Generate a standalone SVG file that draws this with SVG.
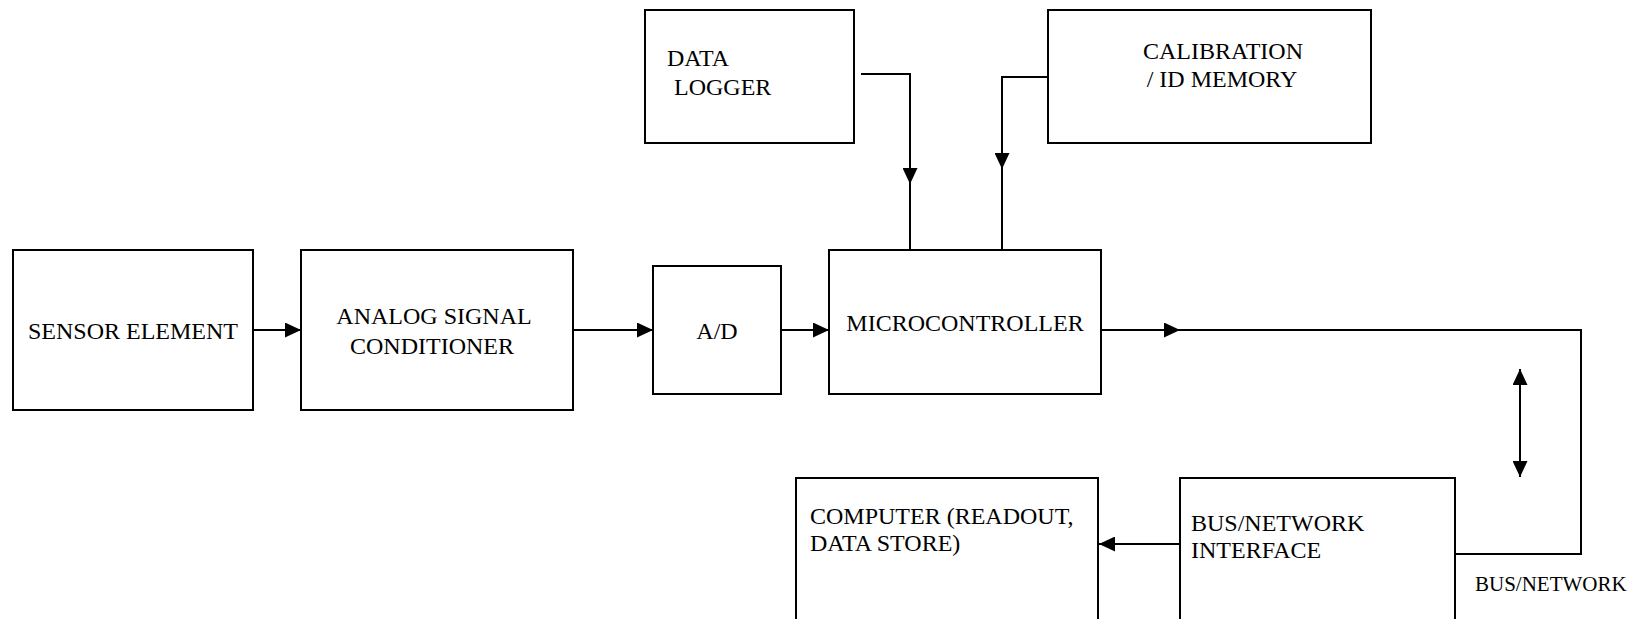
<svg xmlns="http://www.w3.org/2000/svg" width="1632" height="619" viewBox="0 0 1632 619">
  <style>
    .box { fill: #ffffff; stroke: #000000; stroke-width: 2; }
    .wire { fill: none; stroke: #000000; stroke-width: 2; }
    .lbl { font-family: "Liberation Serif", "Times New Roman", serif; font-size: 24px; fill: #000000; }
    .small { font-size: 21px; }
    .mid { text-anchor: middle; }
  </style>
  <defs>
    <marker id="head" markerUnits="userSpaceOnUse" markerWidth="16" markerHeight="15" refX="16" refY="7.5" orient="auto-start-reverse">
      <path d="M0,0 L16,7.5 L0,15 Z" fill="#000000"/>
    </marker>
  </defs>
  <rect width="1632" height="619" fill="#ffffff"/>

  <!-- signal paths between blocks -->
  <g id="connectors">
    <path class="wire" d="M253,330 H301" marker-end="url(#head)"/>
    <path class="wire" d="M573,330 H653" marker-end="url(#head)"/>
    <path class="wire" d="M781,330 H829" marker-end="url(#head)"/>
    <path class="wire" d="M861,74 H910 V184" marker-end="url(#head)"/>
    <path class="wire" d="M910,182 V250"/>
    <path class="wire" d="M1048,77 H1002 V169" marker-end="url(#head)"/>
    <path class="wire" d="M1002,167 V250"/>
    <path class="wire" d="M1101,330 H1180" marker-end="url(#head)"/>
    <path class="wire" d="M1178,330 H1581 V554 H1453"/>
    <path class="wire" d="M1520,369 V477" marker-start="url(#head)" marker-end="url(#head)"/>
    <path class="wire" d="M1180,544 H1099" marker-end="url(#head)"/>
  </g>

  <g id="sensor">
    <rect class="box" x="13" y="250" width="240" height="160"/>
    <text class="lbl mid" x="133" y="339">SENSOR ELEMENT</text>
  </g>

  <g id="conditioner">
    <rect class="box" x="301" y="250" width="272" height="160"/>
    <text class="lbl mid" x="434" y="324">ANALOG SIGNAL</text>
    <text class="lbl mid" x="432" y="354">CONDITIONER</text>
  </g>

  <g id="adc">
    <rect class="box" x="653" y="266" width="128" height="128"/>
    <text class="lbl mid" x="717" y="339">A/D</text>
  </g>

  <g id="microcontroller">
    <rect class="box" x="829" y="250" width="272" height="144"/>
    <text class="lbl mid" x="965" y="331">MICROCONTROLLER</text>
  </g>

  <g id="datalogger">
    <rect class="box" x="645" y="10" width="209" height="133"/>
    <text class="lbl" x="667" y="66">DATA</text>
    <text class="lbl" x="674" y="95">LOGGER</text>
  </g>

  <g id="calibration">
    <rect class="box" x="1048" y="10" width="323" height="133"/>
    <text class="lbl mid" x="1223" y="59">CALIBRATION</text>
    <text class="lbl mid" x="1222" y="87">/ ID MEMORY</text>
  </g>

  <g id="computer">
    <rect class="box" x="796" y="478" width="302" height="150"/>
    <text class="lbl" x="810" y="524">COMPUTER (READOUT,</text>
    <text class="lbl" x="810" y="551">DATA STORE)</text>
  </g>

  <g id="interface">
    <rect class="box" x="1180" y="478" width="275" height="150"/>
    <text class="lbl" x="1191" y="531">BUS/NETWORK</text>
    <text class="lbl" x="1191" y="558">INTERFACE</text>
  </g>

  <g id="bus-label">
    <text class="lbl small" x="1475" y="591">BUS/NETWORK</text>
  </g>
</svg>
